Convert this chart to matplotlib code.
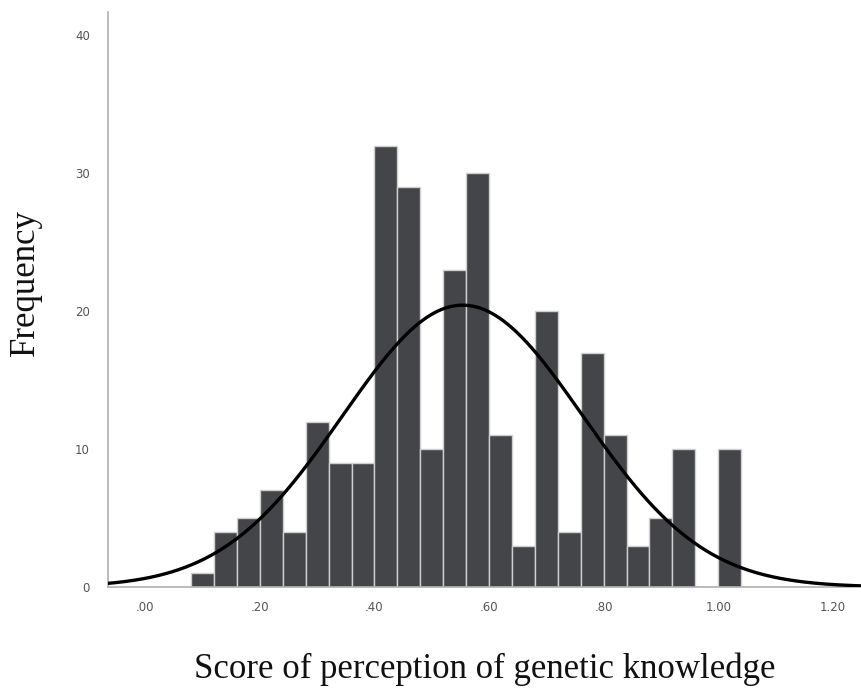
import numpy as np
import matplotlib
matplotlib.use("Agg")
import matplotlib.pyplot as plt

# Histogram bins (left edges) and counts
bin_width = 0.04
bin_left = [0.08, 0.12, 0.16, 0.20, 0.24, 0.28, 0.32, 0.36, 0.40, 0.44, 0.48, 0.52,
            0.56, 0.60, 0.64, 0.68, 0.72, 0.76, 0.80, 0.84, 0.88, 0.92, 0.96, 1.00]
counts = [1, 4, 5, 7, 4, 12, 9, 9, 32, 29, 10, 23,
          30, 11, 3, 20, 4, 17, 11, 3, 5, 10, 0, 10]

# Fitted normal curve parameters
mean_score = 0.554
sd_score = 0.21
n_total = sum(counts)

x_ticks = [0.0, 0.2, 0.4, 0.6, 0.8, 1.0, 1.2]
x_tick_labels = [".00", ".20", ".40", ".60", ".80", "1.00", "1.20"]
y_ticks = [0, 10, 20, 30, 40]

fig = plt.figure(figsize=(8.62, 6.92), dpi=100)
ax = fig.add_axes([0.1253, 0.1517, 0.8747, 0.831])

ax.bar(bin_left, counts, width=bin_width, align="edge",
       color="#444548", edgecolor="#cfcfcf", linewidth=1.0, zorder=2)

xs = np.linspace(-0.07, 1.26, 600)
density = n_total * bin_width / (sd_score * np.sqrt(2 * np.pi)) * \
    np.exp(-0.5 * ((xs - mean_score) / sd_score) ** 2)
ax.plot(xs, density, color="black", linewidth=2.4, zorder=3)

ax.set_xlim(-0.065, 1.251)
ax.set_ylim(0, 41.7)
ax.set_xticks(x_ticks)
ax.set_xticklabels(x_tick_labels)
ax.set_yticks(y_ticks)

for side in ("top", "right"):
    ax.spines[side].set_visible(False)
for side in ("left", "bottom"):
    ax.spines[side].set_color("#b0b0b0")
    ax.spines[side].set_linewidth(1.2)

ax.tick_params(axis="both", length=0, labelsize=8.5, labelcolor="#555555", pad=10)
ax.tick_params(axis="y", pad=13)

ax.set_xlabel("Score of perception of genetic knowledge",
              fontsize=25, family="Liberation Serif", labelpad=28, color="#111111")
ax.set_ylabel("Frequency", fontsize=25, family="Liberation Serif", color="#111111")
ax.yaxis.set_label_coords(-0.087, 0.53)

fig.savefig("out.png", dpi=100)
